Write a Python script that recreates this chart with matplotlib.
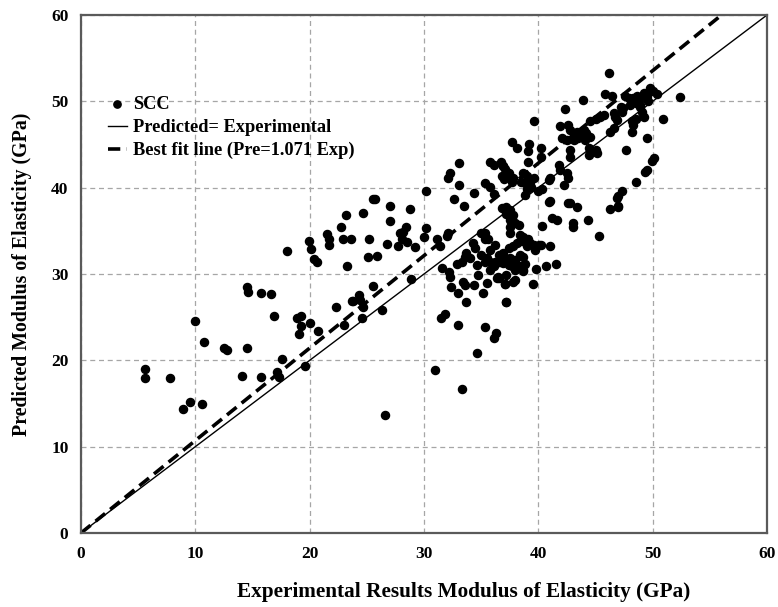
import numpy as np
import matplotlib.pyplot as plt

# ---- data (GPa) ----
# lower-left tail
exp_left = [5.6, 5.6, 7.8, 8.9, 9.5, 10.6, 10.0, 10.8, 12.5, 12.8, 14.5, 14.1, 15.7, 17.1, 17.3,
            17.6, 19.6, 14.5, 14.6, 15.7, 16.6, 16.9, 18.9, 19.2, 19.2, 19.1, 20.0, 20.7, 22.3,
            23.0, 24.6, 23.7, 24.3, 24.7, 26.3, 26.6]
pred_left = [19.0, 17.9, 18.0, 14.4, 15.2, 14.9, 24.5, 22.1, 21.4, 21.2, 21.4, 18.2, 18.1, 18.7, 18.1,
             20.1, 19.4, 28.5, 27.9, 27.8, 27.7, 25.1, 24.9, 25.1, 24.0, 23.0, 24.3, 23.4, 26.2,
             24.1, 24.9, 26.9, 27.6, 26.2, 25.8, 13.7]

# 18-31 GPa band above the diagonal
exp_upper = [23.2, 22.7, 21.5, 21.7, 21.7, 22.9, 23.6, 19.9, 20.1, 18.0, 20.4, 20.6, 23.3, 25.5,
             25.7, 27.0, 28.8, 24.7, 27.0, 28.4, 28.2, 27.9, 25.2, 30.2, 30.0, 28.1, 28.5, 26.8,
             27.7, 29.2, 25.1, 25.9, 28.9, 25.5, 24.4, 23.8, 30.2]
pred_upper = [36.8, 35.4, 34.6, 34.1, 33.4, 34.1, 34.1, 33.8, 32.9, 32.7, 31.7, 31.4, 30.9, 38.7,
              38.7, 37.9, 37.5, 37.1, 36.1, 35.5, 34.9, 34.7, 34.0, 35.3, 34.3, 34.0, 33.7, 33.5,
              33.3, 33.1, 32.0, 32.1, 29.4, 28.6, 27.0, 26.9, 39.6]

# 31-39 GPa main cloud
exp_mid = [31.1, 31.4, 32.1, 32.0, 32.1, 32.3, 33.1, 32.6, 33.1, 33.5, 34.4, 35.3, 35.8, 35.8,
           36.1, 36.7, 36.9, 37.7, 38.1, 37.2, 37.0, 36.1, 36.8, 37.2, 37.7, 35.3, 35.6, 34.3,
           34.5, 33.7, 33.6, 33.3, 32.9, 35.5, 35.8, 36.1, 36.5, 37.1, 37.8, 38.7, 32.3, 32.4,
           33.4, 33.6, 34.4, 35.2, 33.0, 33.7, 37.2, 31.5, 31.8, 33.0, 35.3, 36.3, 36.1, 34.6,
           31.0, 33.3, 35.0, 35.3, 35.8, 36.2, 35.0, 35.3, 35.8, 36.2, 36.6, 34.6, 34.0, 34.7,
           35.5, 36.4, 31.6, 32.2]
pred_mid = [34.0, 33.3, 34.8, 34.4, 41.1, 41.7, 42.8, 38.7, 40.3, 37.9, 39.4, 40.5, 40.1, 43.0,
            42.6, 43.0, 42.5, 45.3, 44.6, 41.7, 41.0, 39.3, 37.6, 37.0, 36.4, 34.7, 34.1, 33.6,
            33.0, 32.4, 32.0, 31.4, 31.2, 31.8, 31.4, 30.9, 29.7, 28.8, 29.1, 30.5, 29.7, 28.5,
            29.1, 28.7, 28.7, 27.8, 27.8, 26.8, 26.8, 24.9, 25.4, 24.1, 23.9, 23.2, 22.6, 20.8,
            18.9, 16.7, 34.8, 34.0, 32.8, 33.4, 32.2, 31.4, 30.5, 31.4, 32.2, 31.1, 31.9, 29.9,
            29.0, 29.5, 30.7, 30.2]

# 37-42 GPa lower dense cluster
exp_dense = [37.5, 37.5, 38.0, 38.3, 38.4, 38.7, 39.1, 39.3, 39.0, 38.6, 38.1, 37.8, 37.4, 36.9,
             37.1, 37.5, 38.0, 38.4, 38.7, 38.8, 38.4, 38.0, 37.7, 37.4, 36.9, 36.6, 38.7, 38.0,
             36.6, 37.2, 41.0, 40.1, 39.7, 41.5, 40.7, 39.8, 39.5, 37.2, 37.1, 37.2, 37.5, 37.8,
             37.5, 39.6, 40.2]
pred_dense = [35.5, 34.7, 35.9, 35.7, 34.5, 34.3, 34.1, 33.6, 33.2, 33.8, 33.6, 33.2, 33.0, 32.4,
              31.8, 31.8, 31.6, 32.2, 32.0, 31.2, 30.9, 30.5, 30.9, 31.1, 31.3, 31.4, 30.3, 29.3,
              29.5, 29.9, 33.2, 33.4, 32.8, 31.2, 30.9, 30.6, 28.8, 26.7, 28.8, 37.8, 37.4, 36.8,
              36.3, 33.4, 33.4]

# 37-53 GPa upper-right cluster
exp_right = [46.2, 43.9, 45.8, 46.4, 42.3, 39.6, 50.4, 52.4, 50.9, 49.5, 47.7, 50.1, 49.9, 49.5,
             49.3, 48.5, 47.3, 47.0, 46.9, 47.0, 46.3, 45.3, 44.3, 42.8, 43.4, 43.0, 43.0, 41.0,
             41.2, 41.6, 40.3, 39.2, 39.1, 40.2, 40.2, 39.1, 41.9, 42.6, 42.1, 42.5, 42.8, 42.8,
             41.8, 41.9, 42.5, 42.6, 42.2, 44.4, 45.0, 44.4, 45.1, 46.3, 46.6, 48.2, 48.3, 49.2,
             49.1, 48.9, 42.8, 43.1, 43.4, 43.7, 44.0, 44.2, 44.5, 44.1, 43.5, 43.1, 44.5, 45.0,
             45.4, 45.7, 46.6, 46.7, 46.9, 47.2, 47.3, 47.4, 47.6, 47.9, 48.3, 48.6, 48.9, 49.2,
             49.5, 49.6, 48.9, 48.5, 48.0, 48.2, 48.5, 36.9, 37.1, 37.4, 36.8, 37.8, 37.7, 38.7,
             39.0, 38.5, 38.8, 39.3, 39.6, 39.4, 39.0, 38.8, 40.0, 40.3, 41.0, 40.9, 40.9, 42.6,
             47.0, 49.8, 50.0]
pred_right = [53.3, 50.2, 50.8, 50.6, 49.1, 47.7, 50.8, 50.5, 47.9, 45.7, 44.4, 43.4, 43.1, 42.1,
              41.8, 40.6, 39.6, 39.0, 38.8, 37.9, 37.5, 34.4, 36.3, 38.2, 37.8, 35.9, 35.5, 38.4,
              36.5, 36.3, 35.6, 45.1, 44.2, 44.6, 43.6, 43.0, 47.1, 47.3, 45.7, 45.5, 44.4, 43.6,
              42.6, 42.1, 41.7, 41.1, 40.3, 44.6, 44.4, 43.8, 44.0, 46.5, 46.9, 46.5, 47.3, 48.2,
              48.8, 49.4, 46.7, 46.3, 46.5, 46.1, 46.7, 46.3, 45.9, 45.5, 45.7, 45.5, 47.7, 47.9,
              48.2, 48.4, 48.6, 48.2, 47.8, 49.4, 48.8, 49.2, 50.6, 50.4, 50.4, 50.6, 50.4, 51.0,
              50.6, 50.0, 49.6, 49.8, 49.6, 47.7, 47.9, 42.5, 42.2, 41.7, 41.3, 41.1, 40.7, 41.7,
              41.3, 40.7, 40.5, 40.7, 41.1, 40.1, 39.9, 39.2, 39.6, 39.8, 41.1, 40.9, 38.3, 38.2,
              37.8, 51.6, 51.2]

exp_all = np.array(exp_left + exp_upper + exp_mid + exp_dense + exp_right)
pred_all = np.array(pred_left + pred_upper + pred_mid + pred_dense + pred_right)

slope = 1.071
line_x = np.array([0, 60])

plt.rcParams["font.family"] = ["Liberation Serif", "DejaVu Serif"]
plt.rcParams["font.weight"] = "bold"

fig = plt.figure(figsize=(7.78, 6.07), dpi=100)
ax = fig.add_axes([0.1041, 0.1219, 0.8818, 0.8534])

ax.scatter(exp_all, pred_all, s=34, color="black", zorder=3, label="SCC")
ax.plot(line_x, line_x, color="black", lw=1.0, zorder=2, label="Predicted= Experimental")
ax.plot(line_x, slope * line_x, color="black", lw=2.6, ls=(0, (3.4, 1.8)), zorder=2,
        label="Best fit line (Pre=1.071 Exp)")

ax.set_xlim(0, 60)
ax.set_ylim(0, 60)
ax.set_xticks(range(0, 61, 10))
ax.set_yticks(range(0, 61, 10))
ax.grid(True, color="#a6a6a6", lw=0.9, ls=(0, (4, 3)))
ax.set_axisbelow(True)
for sp in ax.spines.values():
    sp.set_color("#5a5a5a")
    sp.set_linewidth(1.6)
ax.tick_params(length=0, pad=9, labelsize=12.5)

ax.set_xlabel("Experimental Results Modulus of Elasticity (GPa)", fontsize=15.3,
              fontweight="bold")
ax.xaxis.set_label_coords(0.558, -0.094)
ax.set_ylabel("Predicted Modulus of Elasticity (GPa)", fontsize=14.3,
              fontweight="bold", labelpad=14)

ax.legend(loc="upper left", bbox_to_anchor=(0.028, 0.858), frameon=False,
          fontsize=13.2, handlelength=1.05, handletextpad=0.35, labelspacing=0.33,
          markerscale=0.9, borderaxespad=0)

fig.savefig("out.png", dpi=100)
